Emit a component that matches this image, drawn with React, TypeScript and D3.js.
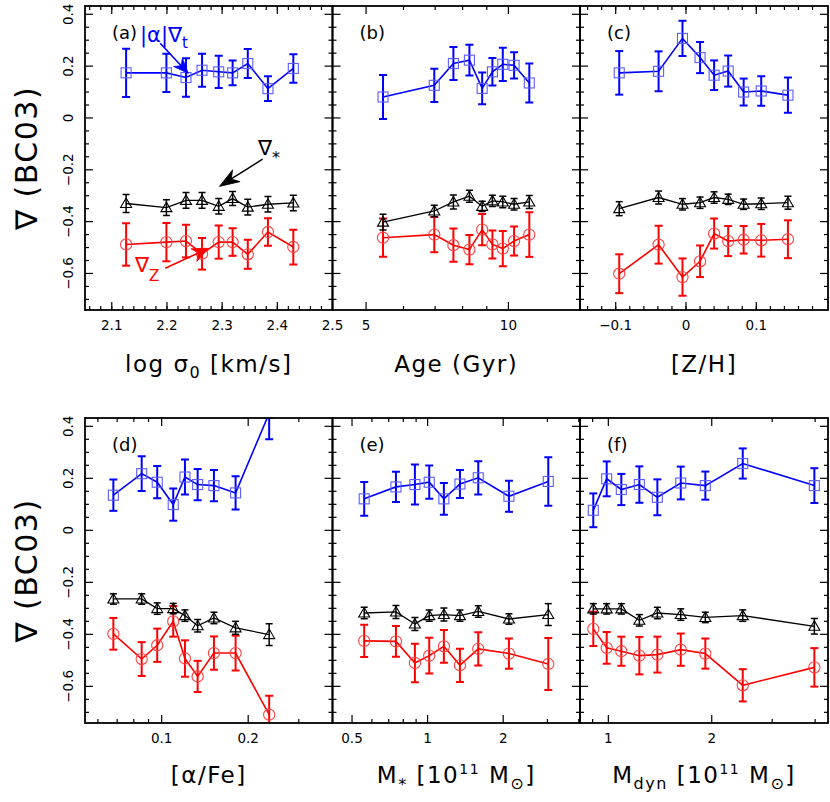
import React from 'react';
import * as d3 from 'd3';

// ---------- data ----------
// (a) log sigma0
const aX = [2.126, 2.199, 2.2345, 2.2636, 2.2938, 2.319, 2.3465, 2.383, 2.429];
const aT = [0.174, 0.174, 0.156, 0.184, 0.178, 0.174, 0.21, 0.113, 0.191];
const aTErr = [0.093, 0.074, 0.074, 0.064, 0.062, 0.048, 0.056, 0.048, 0.055];
const aS = [-0.33, -0.346, -0.318, -0.318, -0.341, -0.311, -0.344, -0.333, -0.328];
const aSErr = [0.035, 0.03, 0.03, 0.03, 0.03, 0.027, 0.03, 0.03, 0.03];
const aZ = [-0.488, -0.479, -0.475, -0.524, -0.479, -0.479, -0.526, -0.44, -0.498];
const aZErr = [0.082, 0.074, 0.063, 0.061, 0.064, 0.053, 0.056, 0.053, 0.067];
// (b) Age
const bX = [5.43, 6.97, 7.65, 8.27, 8.8, 9.25, 9.73, 10.28, 11.07];
const bT = [0.081, 0.126, 0.21, 0.223, 0.114, 0.178, 0.207, 0.203, 0.135];
const bTErr = [0.085, 0.064, 0.064, 0.059, 0.061, 0.053, 0.064, 0.051, 0.075];
const bS = [-0.402, -0.359, -0.324, -0.302, -0.341, -0.32, -0.324, -0.333, -0.324];
const bSErr = [0.03, 0.022, 0.027, 0.023, 0.02, 0.022, 0.022, 0.022, 0.025];
const bZ = [-0.462, -0.45, -0.491, -0.508, -0.431, -0.488, -0.504, -0.475, -0.45];
const bZErr = [0.074, 0.068, 0.064, 0.056, 0.06, 0.054, 0.068, 0.056, 0.086];
// (c) [Z/H]
const cX = [-0.095, -0.039, -0.005, 0.02, 0.04, 0.06, 0.082, 0.107, 0.145];
const cT = [0.174, 0.18, 0.307, 0.233, 0.165, 0.181, 0.1, 0.104, 0.088];
const cTErr = [0.084, 0.077, 0.068, 0.06, 0.057, 0.06, 0.052, 0.057, 0.068];
const cS = [-0.35, -0.307, -0.333, -0.327, -0.307, -0.314, -0.333, -0.331, -0.327];
const cSErr = [0.027, 0.025, 0.022, 0.022, 0.022, 0.02, 0.02, 0.022, 0.025];
const cZ = [-0.601, -0.489, -0.614, -0.553, -0.446, -0.475, -0.47, -0.472, -0.468];
const cZErr = [0.075, 0.073, 0.072, 0.061, 0.058, 0.058, 0.053, 0.063, 0.073];
// (d) [alpha/Fe]
const dX = [0.0679, 0.0852, 0.0965, 0.1097, 0.1205, 0.1334, 0.152, 0.1808, 0.2366];
const dT = [0.135, 0.218, 0.185, 0.099, 0.205, 0.176, 0.172, 0.144, 0.45];
const dTErr = [0.06, 0.067, 0.062, 0.062, 0.067, 0.06, 0.06, 0.064, 0.1];
const dS = [-0.264, -0.264, -0.301, -0.301, -0.328, -0.367, -0.337, -0.375, -0.401];
const dSErr = [0.02, 0.02, 0.022, 0.02, 0.022, 0.024, 0.022, 0.025, 0.042];
const dZ = [-0.398, -0.495, -0.442, -0.35, -0.493, -0.562, -0.472, -0.472, -0.709];
const dZErr = [0.061, 0.065, 0.064, 0.059, 0.07, 0.06, 0.064, 0.067, 0.073];
// (e) M*
const eX = [0.559, 0.748, 0.89, 1.015, 1.161, 1.345, 1.591, 2.108, 3.024];
const eT = [0.121, 0.167, 0.176, 0.185, 0.121, 0.178, 0.202, 0.131, 0.188];
const eTErr = [0.065, 0.058, 0.077, 0.064, 0.061, 0.054, 0.064, 0.06, 0.093];
const eS = [-0.318, -0.314, -0.36, -0.328, -0.324, -0.328, -0.312, -0.341, -0.324];
const eSErr = [0.022, 0.025, 0.025, 0.022, 0.025, 0.022, 0.022, 0.02, 0.042];
const eZ = [-0.425, -0.427, -0.51, -0.482, -0.446, -0.519, -0.456, -0.474, -0.514];
const eZErr = [0.062, 0.059, 0.074, 0.069, 0.063, 0.064, 0.064, 0.058, 0.1];
// (f) Mdyn
const fX = [0.904, 0.989, 1.091, 1.231, 1.389, 1.625, 1.916, 2.462, 3.979];
const fT = [0.077, 0.198, 0.157, 0.176, 0.127, 0.182, 0.172, 0.257, 0.172];
const fTErr = [0.065, 0.067, 0.06, 0.07, 0.069, 0.063, 0.054, 0.058, 0.067];
const fS = [-0.302, -0.302, -0.302, -0.346, -0.318, -0.324, -0.335, -0.328, -0.369];
const fSErr = [0.02, 0.02, 0.02, 0.022, 0.022, 0.022, 0.02, 0.022, 0.03];
const fZ = [-0.379, -0.452, -0.465, -0.482, -0.478, -0.459, -0.474, -0.596, -0.527];
const fZErr = [0.066, 0.061, 0.056, 0.072, 0.069, 0.062, 0.058, 0.062, 0.074];

// ---------- ticks ----------
const yMajor = [-0.6, -0.4, -0.2, 0, 0.2, 0.4];
const yLabels = ['\u22120.6', '\u22120.4', '\u22120.2', '0', '0.2', '0.4'];
const aMajor = [2.1, 2.2, 2.3, 2.4, 2.5];
const aLabels = ['2.1', '2.2', '2.3', '2.4', '2.5'];
const bMajor = [5, 10];
const bLabels = ['5', '10'];
const bMinor = [6, 7, 8, 9];
const cMajor = [-0.1, 0, 0.1];
const cLabels = ['\u22120.1', '0', '0.1'];
const dMajor = [0.1, 0.2];
const dLabels = ['0.1', '0.2'];
const dMinor = [0.06, 0.07, 0.08, 0.09, 0.3];
const eMajor = [0.5, 1, 2];
const eLabels = ['0.5', '1', '2'];
const eMinor = [0.6, 0.7, 0.8, 0.9, 3, 4];
const fMajor = [1, 2];
const fLabels = ['1', '2'];
const fMinor = [0.9, 3, 4];

const W = 830, H = 802;
const colL = [85, 332.5, 580];
const colR = [332.5, 580, 828];
const rowT = [6, 418];
const rowB = [310, 723];
const yDomain = [-0.741, 0.432];
const FONT = 'DejaVu Sans, Liberation Sans, sans-serif';

const BLUE = '#0000ff', BLUE_M = '#5c5cff';
const RED = '#ff0000', RED_M = '#ff4040';

type Panel = {
  id: string; row: number; col: number; log: boolean; domain: [number, number];
  major: number[]; labels: string[]; minor: number[];
  x: number[]; t: number[]; tE: number[]; s: number[]; sE: number[]; z: number[]; zE: number[];
};

const panels: Panel[] = [
  { id: 'a', row: 0, col: 0, log: false, domain: [2.0515, 2.5], major: aMajor, labels: aLabels,
    minor: d3.range(2.06, 2.5, 0.02), x: aX, t: aT, tE: aTErr, s: aS, sE: aSErr, z: aZ, zE: aZErr },
  { id: 'b', row: 0, col: 1, log: true, domain: [4.246, 14.17], major: bMajor, labels: bLabels,
    minor: bMinor, x: bX, t: bT, tE: bTErr, s: bS, sE: bSErr, z: bZ, zE: bZErr },
  { id: 'c', row: 0, col: 2, log: false, domain: [-0.1508, 0.202], major: cMajor, labels: cLabels,
    minor: d3.range(-0.14, 0.2, 0.02), x: cX, t: cT, tE: cTErr, s: cS, sE: cSErr, z: cZ, zE: cZErr },
  { id: 'd', row: 1, col: 0, log: true, domain: [0.0541, 0.393], major: dMajor, labels: dLabels,
    minor: dMinor, x: dX, t: dT, tE: dTErr, s: dS, sE: dSErr, z: dZ, zE: dZErr },
  { id: 'e', row: 1, col: 1, log: true, domain: [0.418, 4.045], major: eMajor, labels: eLabels,
    minor: eMinor, x: eX, t: eT, tE: eTErr, s: eS, sE: eSErr, z: eZ, zE: eZErr },
  { id: 'f', row: 1, col: 2, log: true, domain: [0.827, 4.36], major: fMajor, labels: fLabels,
    minor: fMinor, x: fX, t: fT, tE: fTErr, s: fS, sE: fSErr, z: fZ, zE: fZErr },
];

function Arrow({ x1, y1, x2, y2, color, len, hw, sw }: any) {
  const dx = x2 - x1, dy = y2 - y1;
  const d = Math.hypot(dx, dy);
  const ux = dx / d, uy = dy / d;
  const px = -uy, py = ux;
  const bx = x2 - ux * len, by = y2 - uy * len;
  const nx = x2 - ux * len * 0.7, ny = y2 - uy * len * 0.7;
  const pts = [
    [x2, y2], [bx + px * hw, by + py * hw], [nx, ny], [bx - px * hw, by - py * hw],
  ].map(p => p.join(',')).join(' ');
  return (
    <g>
      <line x1={x1} y1={y1} x2={nx} y2={ny} stroke={color} strokeWidth={sw} />
      <polygon points={pts} fill={color} stroke={color} strokeWidth={0.8} />
    </g>
  );
}

function PanelView({ p }: { p: Panel }) {
  const L = colL[p.col], R = colR[p.col], T = rowT[p.row], B = rowB[p.row];
  const x = (p.log ? d3.scaleLog() : d3.scaleLinear()).domain(p.domain).range([L, R]);
  const y = d3.scaleLinear().domain(yDomain).range([B, T]);
  const yMinor = d3.range(-0.7, 0.43, 0.05).filter(v => Math.abs(Math.round(v / 0.2) * 0.2 - v) > 1e-6);
  const clipId = 'clip-' + p.id;
  const line = d3.line<number>().x((_, i) => x(p.x[i])).y(v => y(v));

  const errBars = (vals: number[], errs: number[], color: string, sw: number, cap: number) =>
    vals.map((v, i) => {
      const cx = x(p.x[i]);
      const y1 = y(v - errs[i]), y2 = y(v + errs[i]);
      return (
        <g key={i} stroke={color} strokeWidth={sw}>
          <line x1={cx} x2={cx} y1={y1} y2={y2} />
          <line x1={cx - cap} x2={cx + cap} y1={y1} y2={y1} />
          <line x1={cx - cap} x2={cx + cap} y1={y2} y2={y2} />
        </g>
      );
    });

  const tickLen = 8, minLen = 4;
  const ticks: React.ReactNode[] = [];
  const addY = (v: number, len: number, k: string) => {
    const yy = y(v);
    ticks.push(<line key={'yl' + k} x1={L} x2={L + len} y1={yy} y2={yy} />);
    ticks.push(<line key={'yr' + k} x1={R} x2={R - len} y1={yy} y2={yy} />);
  };
  yMajor.forEach((v, i) => addY(v, tickLen, 'M' + i));
  yMinor.forEach((v, i) => addY(v, minLen, 'm' + i));
  const addX = (v: number, len: number, k: string) => {
    const xx = x(v);
    if (xx < L - 0.1 || xx > R + 0.1) return;
    ticks.push(<line key={'xb' + k} x1={xx} x2={xx} y1={B} y2={B - len} />);
    ticks.push(<line key={'xt' + k} x1={xx} x2={xx} y1={T} y2={T + len} />);
  };
  p.major.forEach((v, i) => addX(v, tickLen, 'M' + i));
  p.minor.forEach((v, i) => addX(v, minLen, 'm' + i));

  return (
    <g>
      <defs>
        <clipPath id={clipId}><rect x={L} y={T} width={R - L} height={B - T} /></clipPath>
      </defs>
      <g clipPath={`url(#${clipId})`}>
        {errBars(p.t, p.tE, BLUE, 2, 4)}
        {errBars(p.z, p.zE, RED, 2, 4)}
        {errBars(p.s, p.sE, '#000', 1.5, 3.5)}
        <path d={line(p.t) || ''} fill="none" stroke={BLUE} strokeWidth={1.6} />
        <path d={line(p.z) || ''} fill="none" stroke={RED} strokeWidth={1.6} />
        <path d={line(p.s) || ''} fill="none" stroke="#000" strokeWidth={1.3} />
        {p.t.map((v, i) => (
          <rect key={'sq' + i} x={x(p.x[i]) - 5} y={y(v) - 5} width={10} height={10}
            fill="none" stroke={BLUE_M} strokeWidth={1.1} />
        ))}
        {p.z.map((v, i) => (
          <circle key={'ci' + i} cx={x(p.x[i])} cy={y(v)} r={5.6} fill="none" stroke={RED_M} strokeWidth={1.1} />
        ))}
        {p.s.map((v, i) => {
          const cx = x(p.x[i]), cy = y(v);
          return (
            <polygon key={'tr' + i}
              points={`${cx},${cy - 5.5} ${cx + 5.5},${cy + 4} ${cx - 5.5},${cy + 4}`}
              fill="none" stroke="#000" strokeWidth={1.1} />
          );
        })}
      </g>
      <g stroke="#000" strokeWidth={1.2}>{ticks}</g>
      <rect x={L} y={T} width={R - L} height={B - T} fill="none" stroke="#000" strokeWidth={1.8} />
      {p.major.map((v, i) => (
        <text key={'xl' + i} x={x(v)} y={B + 20} textAnchor="middle" fontSize={13.5}
          fontFamily={FONT}>{p.labels[i]}</text>
      ))}
      {p.col === 0 && yMajor.map((v, i) => (
        <text key={'ylab' + i} transform={`translate(${L - 12},${y(v)}) rotate(-90)`}
          textAnchor="middle" fontSize={13.5} fontFamily={FONT}>{yLabels[i]}</text>
      ))}
      <text x={L + 27} y={T + 33} fontSize={18} fontFamily={FONT}>({p.id})</text>
    </g>
  );
}

export default function App() {
  const pa = panels[0];
  const xa = d3.scaleLinear().domain(pa.domain).range([colL[0], colR[0]]);
  const ya = d3.scaleLinear().domain(yDomain).range([rowB[0], rowT[0]]);
  const titleY = [372, 783];
  const cx = (c: number) => (colL[c] + colR[c]) / 2;
  const tf = { fontFamily: FONT, fontSize: 23, textAnchor: 'middle' as const, letterSpacing: 1.5 };
  return (
    <svg width={W} height={H} style={{ display: 'block', position: 'absolute', left: 0, top: 0, background: '#fff' }}>
      <rect x={0} y={0} width={W} height={H} fill="#fff" />
      {panels.map(p => <PanelView key={p.id} p={p} />)}

      {/* y-axis titles */}
      {[0, 1].map(r => (
        <text key={'yt' + r} transform={`translate(37,${(rowT[r] + rowB[r]) / 2}) rotate(-90)`}
          textAnchor="middle" fontSize={30} fontFamily={FONT} letterSpacing={1.5}>{'\u2207 (BC03)'}</text>
      ))}

      {/* x-axis titles */}
      <text x={cx(0)} y={titleY[0]} {...tf}>log σ<tspan dy={6} fontSize={16}>0</tspan><tspan dy={-6}> [km/s]</tspan></text>
      <text x={cx(1)} y={titleY[0]} {...tf}>Age (Gyr)</text>
      <text x={cx(2)} y={titleY[0]} {...tf}>[Z/H]</text>
      <text x={cx(0)} y={titleY[1]} {...tf}>[α/Fe]</text>
      <text x={cx(1)} y={titleY[1]} {...tf}>M<tspan dy={7} fontSize={16}>*</tspan><tspan dy={-7}> [10</tspan><tspan dy={-9} fontSize={14}>11</tspan><tspan dy={9}> M</tspan><tspan dy={6} fontSize={16}>⊙</tspan><tspan dy={-6}>]</tspan></text>
      <text x={cx(2)} y={titleY[1]} {...tf}>M<tspan dy={6} fontSize={16}>dyn</tspan><tspan dy={-6}> [10</tspan><tspan dy={-9} fontSize={14}>11</tspan><tspan dy={9}> M</tspan><tspan dy={6} fontSize={16}>⊙</tspan><tspan dy={-6}>]</tspan></text>

      {/* annotations in panel a */}
      <text x={140} y={42} fontSize={21} fontFamily={FONT} fill={BLUE}>|α|∇<tspan dy={6} fontSize={15}>t</tspan></text>
      <Arrow x1={xa(2.1878)} y1={ya(0.288)} x2={xa(2.2387)} y2={ya(0.172)} color={BLUE} len={15} hw={6} sw={1.6} />
      <text x={258} y={155} fontSize={21} fontFamily={FONT} fill="#000">∇<tspan dy={8} fontSize={16}>*</tspan></text>
      <Arrow x1={xa(2.3733)} y1={ya(-0.159)} x2={xa(2.2951)} y2={ya(-0.264)} color="#000" len={20} hw={7} sw={1.5} />
      <text x={135} y={272} fontSize={21} fontFamily={FONT} fill={RED}>∇<tspan dy={9} fontSize={15}>Z</tspan></text>
      <Arrow x1={xa(2.1969)} y1={ya(-0.58)} x2={xa(2.2751)} y2={ya(-0.503)} color={RED} len={16} hw={7} sw={1.6} />
    </svg>
  );
}
